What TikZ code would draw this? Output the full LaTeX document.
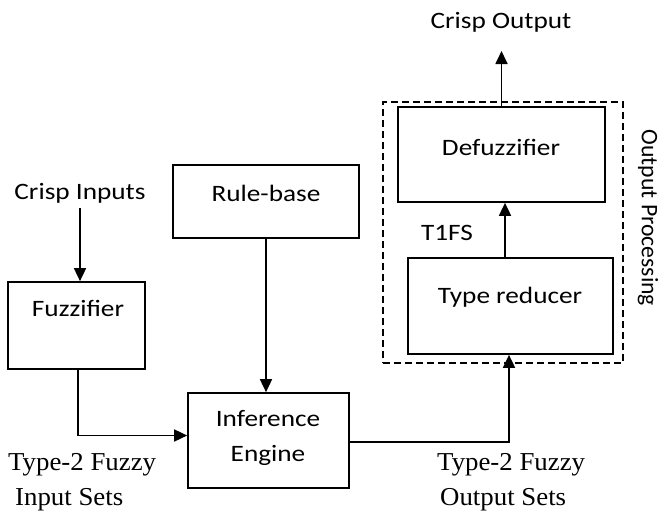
\documentclass[tikz,border=0pt]{standalone}
\usepackage{fontspec}
\setmainfont{Carlito}[FakeStretch=1.16]
\newfontfamily\upfont{Carlito}
\newfontfamily\setfont{Liberation Serif}[FakeStretch=1.04]
\usetikzlibrary{arrows.meta}

\begin{document}
\begin{tikzpicture}[x=1pt,y=-1pt,
		box/.style={draw,line width=1.7pt,inner sep=0pt},
		lbl/.style={font=\fontsize{23.5}{35}\selectfont,inner sep=0pt,align=center},
		setlbl/.style={font=\setfont\fontsize{25.8}{35}\selectfont,inner sep=0pt,align=left,anchor=west},
		arr/.style={line width=1.7pt,-{Triangle[length=13pt,width=12pt]}}]
		\useasboundingbox (0,0) rectangle (660,514);

		\node[box,minimum width=137pt,minimum height=87pt] (fuzz) at (76.5,325.5) {};
		\node[box,minimum width=186pt,minimum height=73pt] (rule) at (266,201.5) {};
		\node[box,minimum width=161pt,minimum height=95pt] (infer) at (268.5,440.5) {};
		\node[box,minimum width=207pt,minimum height=95pt] (defuz) at (501.5,154.5) {};
		\node[box,minimum width=205pt,minimum height=96pt] (tr) at (510.5,306) {};
		\node[draw,line width=1.5pt,dash pattern=on 7pt off 4pt,minimum width=240pt,minimum height=261pt] (outproc) at (503,232.5) {};

		\node[lbl] (fuzztxt) at (78,308) {Fuzzifier};
		\node[lbl] (ruletxt) at (266,193) {Rule-base};
		\node[lbl] (infertxt) at (268,437.5) {Inference\\Engine};
		\node[lbl] (defuztxt) at (501,147) {Defuzzifier};
		\node[lbl] (trtxt) at (510,297) {Type reducer};
		\node[lbl] (crispin) at (80,193) {Crisp Inputs};
		\node[lbl] (crispout) at (501,22) {Crisp Output};
		\node[lbl] (tonefs) at (447,233) {T1FS};
		\node[lbl,font=\upfont\fontsize{23.7}{30}\selectfont,rotate=-90] (proctxt) at (648,218) {Output Processing};
		\node[setlbl] (inset) at (8,482) {Type-2 Fuzzy\\\hspace{7pt}Input Sets};
		\node[setlbl] (outset) at (437,482) {Type-2 Fuzzy\\\hspace{3pt}Output Sets};
		\coordinate (outtip) at (501.5,51);

		\draw[arr] ([yshift=-5pt]crispin.south) -- (crispin.south |- fuzz.north);
		\draw[arr] (fuzz.south -| fuzztxt) |- ([yshift=5pt]infer.west);
		\draw[arr] (rule.south) -- (rule.south |- infer.north);
		\draw[arr] ([yshift=-1.5pt]infer.east) -| ([xshift=-1.5pt]tr.south);
		\draw[arr] ([xshift=-5.5pt]tr.north) -- ([xshift=-5.5pt]tr.north |- defuz.south);
		\draw[arr] (defuz.north) -- (outtip);
	\end{tikzpicture}
\end{document}
